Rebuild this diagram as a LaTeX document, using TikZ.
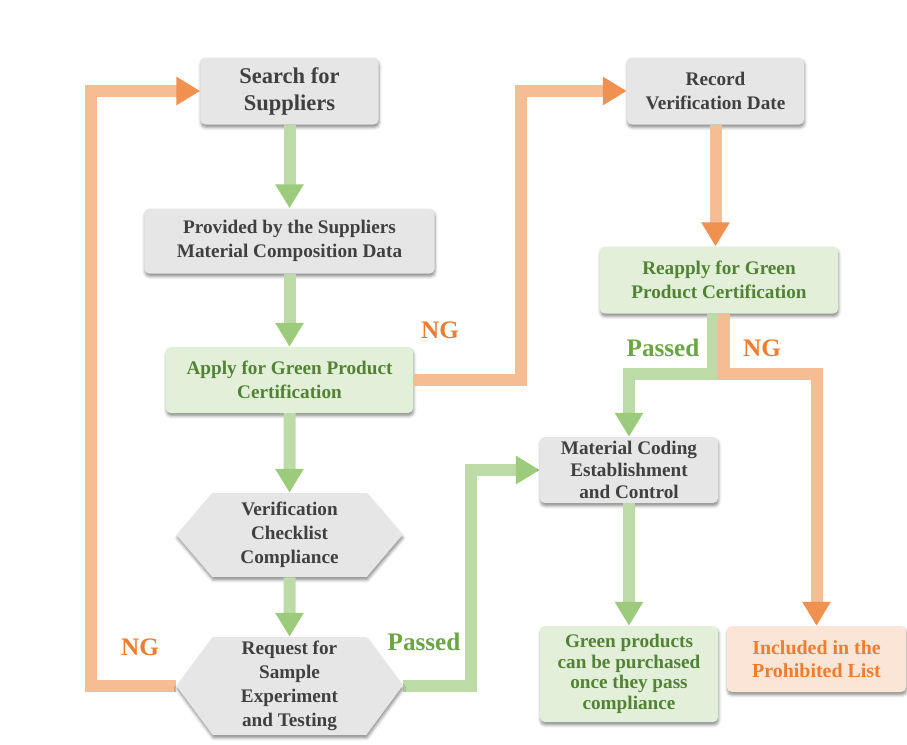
\documentclass[tikz,border=0pt]{standalone}
\usepackage{fontspec}
\setmainfont{Liberation Serif}
\usetikzlibrary{arrows.meta,shapes.symbols,shadows.blur,calc,backgrounds}
\definecolor{boxgray}{HTML}{E7E6E6}
\definecolor{txtgray}{HTML}{404040}
\definecolor{boxgreen}{HTML}{E2F0D9}
\definecolor{txtgreen}{HTML}{548235}
\definecolor{boxorange}{HTML}{FBE5D6}
\definecolor{txtorange}{HTML}{ED7D31}
\definecolor{lblgreen}{HTML}{6AA642}
\definecolor{shaftgreen}{HTML}{BCDBA6}
\definecolor{headgreen}{HTML}{9CCB7C}
\definecolor{shaftorange}{HTML}{F6BC94}
\definecolor{headorange}{HTML}{F0914F}
\begin{document}
\begin{tikzpicture}[x=0.03cm, y=-0.03cm,
		every node/.style={font=\fontsize{16.4}{20.5}\selectfont\bfseries, align=center, inner sep=2pt},
		box/.style={rounded corners=4pt, blur shadow={shadow xshift=0.5pt, shadow yshift=-2.5pt, shadow blur radius=2.5pt, shadow opacity=45}},
		gbox/.style={box, fill=boxgray, text=txtgray},
		grbox/.style={box, fill=boxgreen, text=txtgreen},
		obox/.style={box, fill=boxorange, text=txtorange},
		hexa/.style={gbox, sharp corners, inner sep=0pt, signal, signal to=west and east, minimum width=6.78cm},
		arr/.style={line width=0.36cm},
		garr/.style={arr, draw=shaftgreen, -{Triangle[width=0.81cm, length=0.72cm, color=headgreen]}},
		oarr/.style={arr, draw=shaftorange, -{Triangle[width=0.81cm, length=0.72cm, color=headorange]}},
		lbl/.style={font=\fontsize{21.5}{24}\selectfont\bfseries}]
	\useasboundingbox (0,0) rectangle (907,744);
	\node[gbox, minimum width=5.34cm, minimum height=2.01cm, font=\fontsize{19.2}{23}\selectfont\bfseries] (s) at (289.5,91) {Search for\\Suppliers};
	\node[gbox, minimum width=8.7cm, minimum height=1.95cm] (p) at (289.5,241) {Provided by the Suppliers\\Material Composition Data};
	\node[grbox, minimum width=7.41cm, minimum height=1.98cm] (a) at (289.5,380) {Apply for Green Product\\Certification};
	\node[hexa, minimum height=2.52cm, signal pointer angle=99] (v) at (289.5,535) {Verification\\Checklist\\Compliance};
	\node[hexa, minimum height=2.94cm, signal pointer angle=107] (r) at (289.5,686) {Request for\\Sample\\Experiment\\and Testing};
	\node[gbox, minimum width=5.31cm, minimum height=2.01cm] (d) at (715.5,91) {Record\\Verification Date};
	\node[grbox, minimum width=7.14cm, minimum height=2.01cm] (g) at (719,280) {Reapply for Green\\Product Certification};
	\node[gbox, inner sep=0pt, minimum width=5.34cm, minimum height=1.98cm, font=\fontsize{16.4}{18.5}\selectfont\bfseries] (m) at (629,470) {Material Coding\\Establishment\\and Control};
	\node[grbox, minimum width=5.34cm, minimum height=2.88cm, font=\fontsize{16.4}{17.5}\selectfont\bfseries] (e) at (629,674) {Green products\\can be purchased\\once they pass\\compliance};
	\node[obox, minimum width=5.37cm, minimum height=1.98cm, font=\fontsize{17}{20}\selectfont\bfseries] (i) at (816.5,659) {Included in the\\Prohibited List};
	\node[lbl, text=txtorange] (n1) at (140,647) {NG};
	\node[lbl, text=txtorange] (n2) at (440,330) {NG};
	\node[lbl, text=lblgreen] (p1) at (424,642) {Passed};
	\node[lbl, text=lblgreen] (p2) at (663,348) {Passed};
	\node[lbl, text=txtorange] (n3) at (762,348) {NG};
	\draw[garr] (s)--(p);
	\draw[garr] (p)--(a);
	\draw[garr] (a)--(v);
	\draw[garr] (v)--(r);
	\draw[garr] (m)--(e);
	\draw[oarr] (d.south)--(d.south|-g.north);
	\draw[oarr] (a.east) -- ++(108,0) |- (d.west);
	\draw[garr] ($(g.south)+(-6,0)$) -- ++(0,60) -| (m.north);
	\draw[oarr] ($(g.south)+(5,0)$) -- ++(0,60) -| (i.north);
	\begin{scope}[on background layer]
		\draw[oarr] (r.west) -- ++(-85,0) |- (s.west);
		\draw[garr] (r.east) -- ++(68,0) |- (m.west);
	\end{scope}
\end{tikzpicture}
\end{document}
